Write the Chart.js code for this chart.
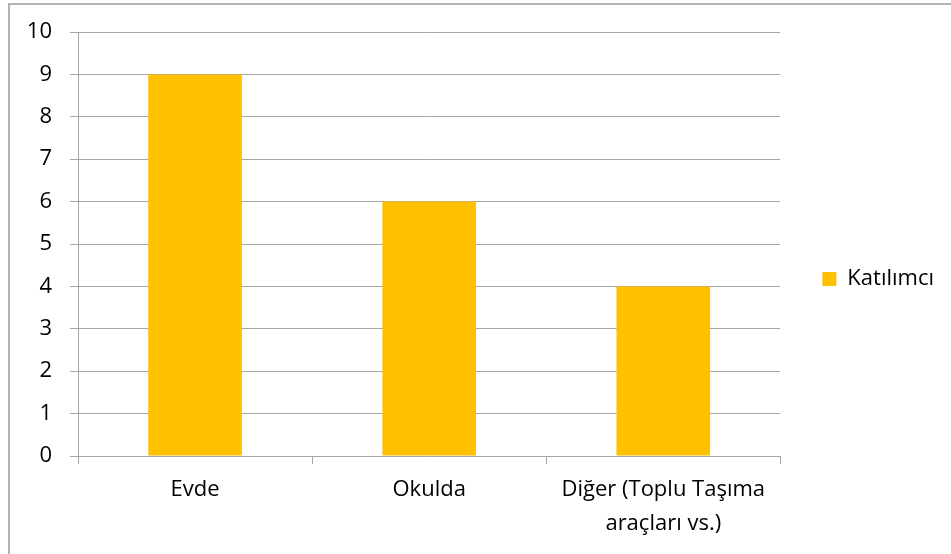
<!DOCTYPE html>
<html>
<head>
<meta charset="utf-8">
<script src="https://cdn.jsdelivr.net/npm/chart.js@4"></script>
<style>
  html, body { margin: 0; padding: 0; background: #fff; }
  #wrap { position: relative; width: 951px; height: 554px; }
</style>
</head>
<body>
<div id="wrap"><canvas id="myChart" width="951" height="554"></canvas></div>
<script>
// Data
const categories = ['Evde', 'Okulda', ['Diğer (Toplu Taşıma', 'araçları vs.)']];
const participants = [9, 6, 4];
const seriesName = 'Katılımcı';
const yTicks = [0, 1, 2, 3, 4, 5, 6, 7, 8, 9, 10];

const gridColor = '#a6a6a6';
const textFont = { family: '"Open Sans", Lato, sans-serif', size: 22 };

// outer frame of the chart object (only top and left edges fall inside the image)
const framePlugin = {
    id: 'frame',
    beforeDraw(chart) {
        const c = chart.ctx;
        c.save();
        c.fillStyle = '#fff';
        c.fillRect(0, 0, chart.width, chart.height);
        c.fillStyle = '#b3b3b3';
        c.fillRect(8, 3, 2, chart.height);
        c.fillRect(8, 3, chart.width, 2);
        c.restore();
    }
};

const ctx = document.getElementById('myChart').getContext('2d');
const myChart = new Chart(ctx, {
    type: 'bar',
    data: {
        labels: categories,
        datasets: [{
            label: seriesName,
            data: participants,
            backgroundColor: '#FFC000',
            borderWidth: 0,
            barPercentage: 0.4,
            categoryPercentage: 1
        }]
    },
    options: {
        responsive: false,
        animation: false,
        devicePixelRatio: 1,
        layout: { padding: { top: 4, left: 8, right: 7, bottom: 0 } },
        plugins: {
            // empty title only reserves the space above the plot
            title: {
                display: true,
                text: '',
                fullSize: false,
                padding: 0,
                font: { size: 20, lineHeight: 1.4 }
            },
            legend: {
                position: 'right',
                labels: {
                    boxWidth: 14,
                    boxHeight: 14,
                    padding: 42,
                    color: '#000',
                    font: textFont
                }
            },
            tooltip: { enabled: false }
        },
        scales: {
            x: {
                grid: {
                    drawOnChartArea: false,
                    drawTicks: true,
                    tickLength: 8,
                    color: gridColor
                },
                border: { color: gridColor },
                ticks: {
                    color: '#000',
                    font: { ...textFont, lineHeight: 1.55 },
                    padding: 9,
                    maxRotation: 0,
                    autoSkip: false
                },
                afterFit(scale) { scale.height = 98; }
            },
            y: {
                min: 0,
                max: 10,
                afterBuildTicks(scale) {
                    scale.ticks = yTicks.map(v => ({ value: v }));
                },
                grid: {
                    color: gridColor,
                    tickLength: 8
                },
                border: { color: gridColor },
                ticks: {
                    color: '#000',
                    font: textFont,
                    padding: 18
                },
                afterFit(scale) { scale.width = 70; }
            }
        }
    },
    plugins: [framePlugin]
});
</script>
</body>
</html>
